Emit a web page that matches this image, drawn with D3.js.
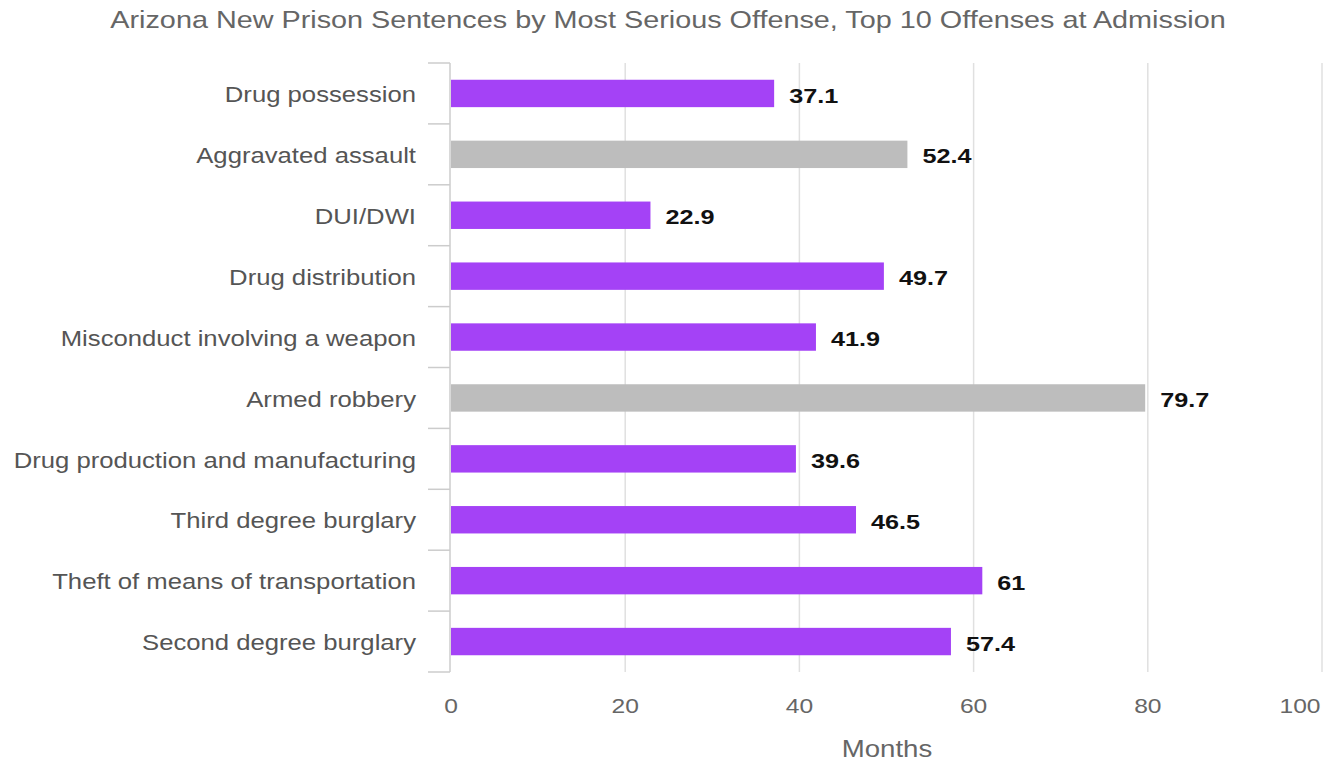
<!DOCTYPE html>
<html><head><meta charset="utf-8">
<script src="https://cdn.jsdelivr.net/npm/d3@7/dist/d3.min.js"></script>
<style>body{margin:0;background:#fff;} text{font-family:"Liberation Sans",Arial,sans-serif;}</style>
</head><body>
<svg id="c" width="1325" height="761"></svg>
<script>
const categories = ["Drug possession","Aggravated assault","DUI/DWI","Drug distribution","Misconduct involving a weapon","Armed robbery","Drug production and manufacturing","Third degree burglary","Theft of means of transportation","Second degree burglary"];
const values = [37.1,52.4,22.9,49.7,41.9,79.7,39.6,46.5,61,57.4];
const labels = ["37.1","52.4","22.9","49.7","41.9","79.7","39.6","46.5","61","57.4"];
const highlighted = [false,true,false,false,false,true,false,false,false,false];
const xTicks = [0,20,40,60,80,100];

(function(){
const svg = d3.select("#c");
const SX = 1.2; // horizontal stretch of text as seen in the reference
const pLeft = 451, pRight = 1322, pTop = 63, pBottom = 672;
const x = d3.scaleLinear().domain([0,100]).range([pLeft,pRight]);
const y = d3.scaleBand().domain(categories).range([pTop,pBottom]).paddingInner(0.55).paddingOuter(0.275);
const tr = (px,py)=>`translate(${px},${py}) scale(${SX},1)`;

// gridlines
svg.append("g").selectAll("line").data(xTicks.filter(d=>d>0)).join("line")
  .attr("x1",d=>x(d)).attr("x2",d=>x(d)).attr("y1",pTop).attr("y2",pBottom)
  .attr("stroke","#e0e0e0").attr("stroke-width",1.5);

// y axis line + band ticks
const bandEdges = categories.map(c=>y(c)-y.step()*y.paddingInner()/2).concat([pBottom]);
svg.append("line").attr("x1",pLeft-1).attr("x2",pLeft-1).attr("y1",pTop).attr("y2",pBottom).attr("stroke","#cccccc").attr("stroke-width",1.5);
svg.append("g").selectAll("line").data(bandEdges).join("line")
  .attr("x1",428).attr("x2",pLeft-1).attr("y1",d=>d).attr("y2",d=>d)
  .attr("stroke","#cccccc").attr("stroke-width",1.5);

// bars
svg.append("g").selectAll("rect").data(categories).join("rect")
  .attr("x",x(0)).attr("y",d=>y(d)).attr("height",y.bandwidth())
  .attr("width",(d,i)=>x(values[i])-x(0))
  .attr("fill",(d,i)=>highlighted[i]?"#bdbdbd":"#a442f6");

// value labels
svg.append("g").selectAll("text").data(categories).join("text")
  .attr("transform",(d,i)=>tr(x(values[i])+15, y(d)+y.bandwidth()/2+1.5))
  .attr("dy","0.36em").attr("font-size",21).attr("font-weight","bold").attr("fill","#111")
  .text((d,i)=>labels[i]);

// category labels
svg.append("g").selectAll("text").data(categories).join("text")
  .attr("transform",d=>tr(416, y(d)+y.bandwidth()/2+1))
  .attr("dy","0.36em").attr("text-anchor","end").attr("font-size",21.4).attr("fill","#555")
  .text(d=>d);

// x tick labels
svg.append("g").selectAll("text").data(xTicks).join("text")
  .attr("transform",d=>tr(d===100?x(d)-22:x(d), 713))
  .attr("text-anchor","middle").attr("font-size",20.5).attr("fill","#666")
  .text(d=>d);

svg.append("text").attr("transform",tr(887,757)).attr("text-anchor","middle")
  .attr("font-size",23).attr("fill","#666").text("Months");

svg.append("text").attr("transform",tr(668,28)).attr("text-anchor","middle")
  .attr("font-size",24).attr("fill","#666")
  .text("Arizona New Prison Sentences by Most Serious Offense, Top 10 Offenses at Admission");
})();
</script>
</body></html>
